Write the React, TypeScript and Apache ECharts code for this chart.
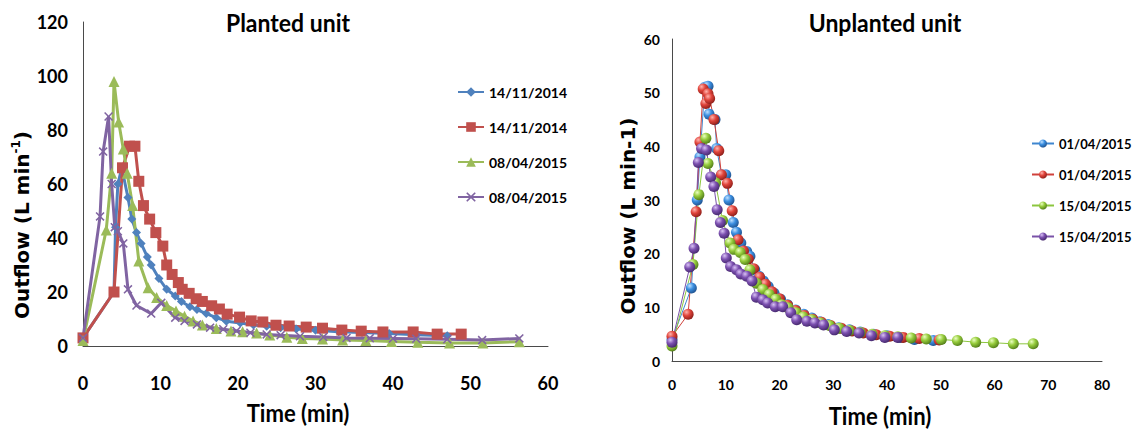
import React, { useEffect, useRef } from "react";
import * as echarts from "echarts";

// ---------- Planted unit (left) ----------
const plantedLabels = ["14/11/2014", "14/11/2014", "08/04/2015", "08/04/2015"];
const pBlueT = [0, 4, 4.2, 4.5, 5, 5.8, 6.3, 6.9, 7.5, 8.3, 8.8, 9.8, 10.8, 11.9, 12.7, 13.8, 14.7, 15.9, 17.2, 18.5, 20.3, 22, 23.7, 25.5, 27.5, 30, 33, 36, 39.5, 43, 47];
const pBlueV = [3, 20, 44, 60, 66, 55, 47, 42, 38, 33, 30, 25, 21, 18.5, 16.5, 14.5, 13.5, 12, 10.5, 9.2, 8.5, 7.8, 7.3, 6.8, 6.3, 5.8, 5.3, 5, 4.6, 4.2, 3.8];
const pRedT = [0, 4, 5.1, 6, 6.7, 7.2, 7.8, 8.6, 9.4, 10.3, 10.8, 11.5, 12.3, 12.8, 13.7, 14.6, 15.4, 16.6, 17.6, 18.6, 20.2, 21.7, 23.2, 24.9, 26.6, 28.8, 30.9, 33.4, 35.9, 38.7, 42.6, 45.7, 48.8];
const pRedV = [3, 20, 66, 74, 74, 61, 52, 47, 42, 37, 30, 26.5, 23.5, 21, 19.5, 17.5, 16.5, 14.9, 13.7, 11.8, 10.7, 9.3, 8.9, 7.7, 7.4, 7, 6.6, 5.9, 5.5, 5.2, 5.2, 4.4, 4.4];
const pGreenT = [0, 3, 3.7, 4, 4.6, 5.2, 5.7, 6.4, 7.2, 8.4, 9.5, 10.8, 12, 13.1, 14.2, 15.4, 17.2, 19.1, 20.6, 22.4, 24.1, 26.3, 28.3, 30.9, 33.5, 36.5, 39.8, 43.2, 47.3, 51.6, 56.3];
const pGreenV = [2, 43, 64, 98, 83, 73, 64, 52, 31.5, 21.6, 18, 15, 13, 11, 9.3, 7.8, 6.5, 5.6, 5.3, 4.8, 4.1, 3.2, 2.8, 2.6, 2.2, 2, 1.7, 1.4, 1.1, 1.1, 1.6];
const pPurpleT = [0, 2.2, 2.6, 3.3, 3.7, 4.1, 4.5, 5.2, 5.8, 6.9, 8.8, 10.1, 11.9, 13.1, 14.7, 16.4, 18.1, 19.8, 21.6, 23.7, 25.5, 28, 31, 34, 37, 40, 43, 47, 51.5, 56.3];
const pPurpleV = [3, 48, 72, 85, 60, 44, 42.5, 38, 21, 15, 12, 16, 10.5, 9.3, 8, 6.8, 6.2, 5.6, 4.9, 4.3, 4, 3.6, 3.3, 3, 2.9, 2.8, 2.7, 2.5, 2.2, 2.8];

// ---------- Unplanted unit (right) ----------
const unplantedLabels = ["01/04/2015", "01/04/2015", "15/04/2015", "15/04/2015"];
const uBlueT = [0, 3.6, 4.7, 5.2, 6.1, 6.7, 6.9, 8, 8.3, 9.2, 10, 10.6, 11.4, 12, 12.8, 13.9, 14.5, 15.4, 16.2, 17, 17.9, 19, 20.2, 21.5, 23, 24.5, 26, 27.5, 29, 31, 33, 35, 37.5, 40, 42.5, 45.1, 48.6];
const uBlueV = [4, 13.6, 30, 38, 51, 51.2, 46, 45, 39.6, 34.7, 34.7, 30, 25.8, 24, 22, 20.4, 19.5, 17, 15.8, 14.9, 13.9, 12.6, 11.5, 10.5, 9.5, 8.7, 8, 7.3, 6.8, 6.2, 5.8, 5.4, 5, 4.7, 4.4, 4, 3.8];
const uRedT = [0, 3, 4.5, 5.2, 5.8, 6.3, 6.7, 7, 7.8, 8.7, 9.2, 10.3, 11.2, 12.3, 13.3, 14.2, 15.2, 16.3, 17.4, 18.6, 20, 21.5, 23, 24.6, 26.2, 27.8, 29.5, 31.5, 33.5, 35.6, 38, 40.5, 43, 46, 49.7];
const uRedV = [4.6, 8.7, 27.8, 40.8, 50.7, 48, 49.8, 48.9, 45, 39.2, 34.7, 33.1, 28, 22.6, 20.5, 19, 17.2, 15.6, 14.3, 12.9, 11.6, 10.4, 9.4, 8.5, 7.8, 7.2, 6.6, 6.1, 5.6, 5.2, 4.9, 4.6, 4.4, 4.2, 3.9];
const uGreenT = [0, 3.9, 5, 6.3, 6.7, 8.1, 9.4, 10.8, 11.5, 12.7, 13.6, 14.5, 15.7, 16.9, 18.1, 19.3, 20.4, 21.6, 23.1, 24.4, 26, 27.6, 29.3, 31.1, 33, 35, 37.2, 39.6, 42, 44.5, 47.3, 50.1, 53.1, 56.5, 59.8, 63.5, 67.2];
const uGreenV = [2.8, 18, 31, 41.5, 36.8, 33.2, 26.2, 22, 20.8, 20.2, 18.9, 17, 14.5, 13.3, 12.4, 11.5, 10.5, 9.9, 9, 8.2, 7.7, 7.1, 6.6, 6.1, 5.7, 5.3, 5, 4.7, 4.5, 4.3, 4.1, 4, 3.8, 3.5, 3.4, 3.2, 3.2];
const uPurpleT = [0, 3.3, 4.1, 4.9, 5.5, 6.4, 7.2, 7.8, 8.4, 9, 9.7, 10.1, 10.9, 12, 12.8, 13.9, 14.9, 15.7, 16.9, 17.8, 19.2, 20.6, 22.1, 23.2, 25.1, 26.6, 28.2, 30.2, 32.5, 34.8, 37.1, 39.6, 42];
const uPurpleV = [3.5, 17.5, 21, 37, 39.6, 39.3, 34.3, 32.5, 28.2, 25.8, 23.8, 19.2, 17.6, 17, 16.2, 15.8, 14.9, 11.9, 11.4, 10.8, 10.1, 10.1, 9, 7.7, 7.4, 7.1, 6.7, 5.8, 5.5, 5.2, 4.7, 4.4, 4.4];

const plantedX = { min: 0, max: 60, interval: 10 };
const plantedY = { min: 0, max: 120, interval: 20 };
const unplantedX = { min: 0, max: 80, interval: 10 };
const unplantedY = { min: 0, max: 60, interval: 10 };

const zip = (t: number[], v: number[]) => t.map((x, i) => [x, v[i]]);

const NARROW = "Lato, 'Liberation Sans', sans-serif";
const WIDE = "'DejaVu Sans', Verdana, sans-serif";

const C_BLUE = "#4F81BD";
const C_RED = "#C0504D";
const C_GREEN = "#9BBB59";
const C_PURPLE = "#8064A2";

const X_SYMBOL = "path://M0,1.2 L1.2,0 L5,3.8 L8.8,0 L10,1.2 L6.2,5 L10,8.8 L8.8,10 L5,6.2 L1.2,10 L0,8.8 L3.8,5 Z";

const sphere = (light: string, base: string, dark: string) =>
  new echarts.graphic.RadialGradient(0.35, 0.3, 0.75, [
    { offset: 0, color: light },
    { offset: 0.45, color: base },
    { offset: 1, color: dark },
  ]);

export default function App() {
  const ref = useRef<HTMLDivElement>(null);
  useEffect(() => {
    if (!ref.current) return;
    const chart = echarts.init(ref.current, undefined, { renderer: "svg" });
    const labelMap: Record<string, string> = {
      P1: plantedLabels[0], P2: plantedLabels[1], P3: plantedLabels[2], P4: plantedLabels[3],
      U1: unplantedLabels[0], U2: unplantedLabels[1], U3: unplantedLabels[2], U4: unplantedLabels[3],
    };
    const axisLine = { show: true, lineStyle: { color: "#4a4a4a", width: 1 } };
    const leftSeries = (name: string, data: number[][], color: string, symbol: string, size: number) => ({
      name, type: "line", xAxisIndex: 0, yAxisIndex: 0, data,
      symbol, symbolSize: size, showSymbol: true,
      lineStyle: { color, width: 3 }, itemStyle: { color },
    });
    const rightSeries = (name: string, data: number[][], color: string, fill: any) => ({
      name, type: "line", xAxisIndex: 1, yAxisIndex: 1, data,
      symbol: "circle", symbolSize: 11, showSymbol: true,
      lineStyle: { color, width: 1 }, itemStyle: { color: fill },
    });
    const option: any = {
      animation: false,
      backgroundColor: "#ffffff",
      grid: [
        { left: 83, top: 22, width: 465, height: 324 },
        { left: 672, top: 39, width: 430, height: 322 },
      ],
      xAxis: [
        {
          gridIndex: 0, type: "value", ...plantedX, splitLine: { show: false }, axisTick: { show: false }, axisLine,
          axisLabel: { margin: 28, fontSize: 18, fontWeight: "bold", color: "#000", fontFamily: NARROW },
        },
        {
          gridIndex: 1, type: "value", ...unplantedX, splitLine: { show: false }, axisTick: { show: false }, axisLine,
          axisLabel: { margin: 16, fontSize: 14, fontWeight: "bold", color: "#000", fontFamily: NARROW },
        },
      ],
      yAxis: [
        {
          gridIndex: 0, type: "value", ...plantedY, splitLine: { show: false }, axisTick: { show: false }, axisLine,
          axisLabel: { margin: 15, fontSize: 18, fontWeight: "bold", color: "#000", fontFamily: NARROW },
        },
        {
          gridIndex: 1, type: "value", ...unplantedY, splitLine: { show: false }, axisTick: { show: false }, axisLine,
          axisLabel: { margin: 12, fontSize: 14, fontWeight: "bold", color: "#000", fontFamily: NARROW },
        },
      ],
      legend: [
        {
          data: ["P1", "P2", "P3", "P4"], orient: "vertical", left: 452, top: 80,
          itemWidth: 26, itemHeight: 12, itemGap: 21,
          formatter: (n: string) => labelMap[n],
          textStyle: { fontSize: 14, fontWeight: "bold", color: "#000", fontFamily: NARROW },
        },
        {
          data: ["U1", "U2", "U3", "U4"], orient: "vertical", left: 1026, top: 132,
          itemWidth: 22, itemHeight: 10, itemGap: 18,
          formatter: (n: string) => labelMap[n],
          textStyle: { fontSize: 13, fontWeight: "bold", color: "#000", fontFamily: NARROW },
        },
      ],
      graphic: [
        { type: "text", x: 288, y: 22, scaleX: 0.92, style: { text: "Planted unit", align: "center", verticalAlign: "middle", font: `bold 25px ${NARROW}`, fill: "#000" } },
        { type: "text", x: 885, y: 22, scaleX: 0.92, style: { text: "Unplanted unit", align: "center", verticalAlign: "middle", font: `bold 25px ${NARROW}`, fill: "#000" } },
        { type: "text", x: 298, y: 413, scaleX: 0.92, style: { text: "Time (min)", align: "center", verticalAlign: "middle", font: `bold 24px ${NARROW}`, fill: "#000" } },
        { type: "text", x: 880, y: 416, scaleX: 0.92, style: { text: "Time (min)", align: "center", verticalAlign: "middle", font: `bold 24px ${NARROW}`, fill: "#000" } },
        {
          type: "text", x: 22, y: 225, rotation: Math.PI / 2,
          style: {
            text: "{a|Outflow (L min}{s|-1}{a|)}", align: "center", verticalAlign: "middle",
            rich: {
              a: { fontSize: 20, fontWeight: "bold", fontFamily: WIDE, fill: "#000", lineHeight: 24 },
              s: { fontSize: 12, fontWeight: "bold", fontFamily: WIDE, fill: "#000", lineHeight: 14, verticalAlign: "top" },
            },
          },
        },
        {
          type: "text", x: 628, y: 216, rotation: Math.PI / 2,
          style: { text: "Outflow (L min-1)", align: "center", verticalAlign: "middle", font: `bold 20px ${WIDE}`, fill: "#000" },
        },
      ],
      series: [
        leftSeries("P1", zip(pBlueT, pBlueV), C_BLUE, "diamond", 9),
        leftSeries("P2", zip(pRedT, pRedV), C_RED, "rect", 11),
        leftSeries("P3", zip(pGreenT, pGreenV), C_GREEN, "triangle", 11),
        leftSeries("P4", zip(pPurpleT, pPurpleV), C_PURPLE, X_SYMBOL, 9),
        rightSeries("U1", zip(uBlueT, uBlueV), "#3f86cf", sphere("#bfe0ff", "#3a8ee0", "#1f4f8a")),
        rightSeries("U2", zip(uRedT, uRedV), "#d0413b", sphere("#ffb3ad", "#e0443b", "#8a1d18")),
        rightSeries("U3", zip(uGreenT, uGreenV), "#8cc63f", sphere("#eaffc0", "#96cc3c", "#4f7a18")),
        rightSeries("U4", zip(uPurpleT, uPurpleV), "#7a52a8", sphere("#d9c2f5", "#7c50b0", "#43276a")),
      ],
    };
    chart.setOption(option);
    return () => chart.dispose();
  }, []);
  return <div ref={ref} style={{ position: "fixed", left: 0, top: 0, width: 1133, height: 432, background: "#fff" }} />;
}
